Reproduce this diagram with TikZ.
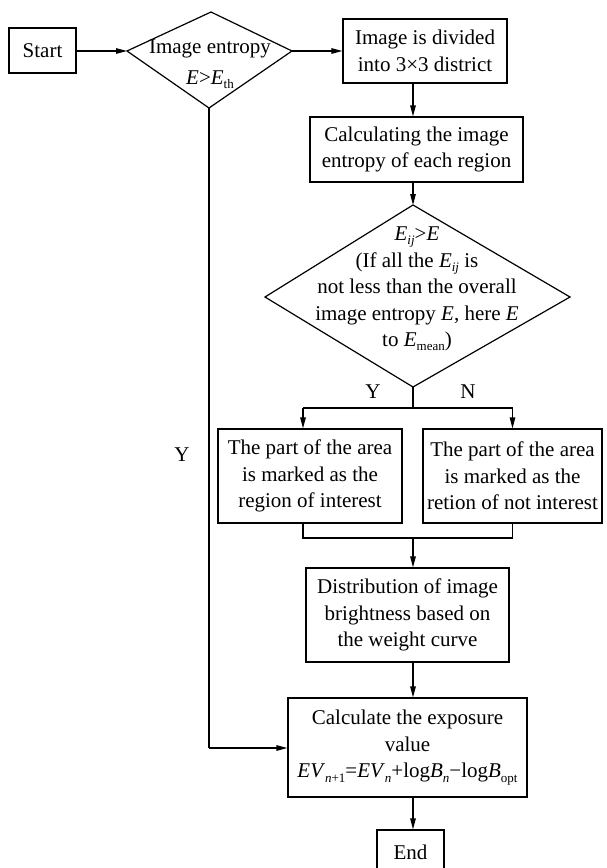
\documentclass[tikz,border=0pt]{standalone}
\usepackage{fontspec}
\setmainfont{Liberation Serif}
\usetikzlibrary{arrows.meta}
\newcommand{\sbx}[1]{\raisebox{-0.45ex}{\fontsize{13}{13}\selectfont #1}}
\newcommand{\fs}{\fontsize{21}{26.5}\selectfont}
\begin{document}
\begin{tikzpicture}[x=1pt,y=-1pt,
  box/.style={draw, line width=1.2pt, inner sep=0pt, align=center, font=\fs},
  txt/.style={inner sep=0pt, align=center, font=\fs},
  shape line/.style={draw, line width=1.2pt, line join=miter},
  conn/.style={line width=1.2pt},
  arr/.style={line width=1.2pt, -{Triangle[length=11pt,width=5.5pt]}},
  lbl/.style={inner sep=0pt, font=\fs}]
\fill[white] (0,0) rectangle (607,868);
\clip (0,0) rectangle (607,868);

% start
\node[box, minimum width=67pt, minimum height=45pt] (start) at (42.5,50.5) {Start};

% decision 1
\coordinate (d1L) at (127,51);
\coordinate (d1T) at (211,12);
\coordinate (d1R) at (292,51);
\coordinate (d1B) at (209,108);
\draw[shape line] (d1L) -- (d1T) -- (d1R) -- (d1B) -- cycle;
\node[txt] (d1t) at (210,64.5) {Image entropy\\[4pt]\textit{E}>\textit{E}\sbx{th}};

% box 1
\node[box, minimum width=164pt, minimum height=64pt] (box1) at (425,51) {Image is divided\\into 3×3 district};
% box 2
\node[box, minimum width=213pt, minimum height=65pt] (box2) at (416.5,149.5) {Calculating the image\\entropy of each region};

% decision 2
\coordinate (d2T) at (413,205);
\coordinate (d2L) at (265,297);
\coordinate (d2R) at (570,297);
\coordinate (d2B) at (413,387);
\draw[shape line] (d2L) -- (d2T) -- (d2R) -- (d2B) -- cycle;
\node[txt] (d2t) at (417,289) {\textit{E}\sbx{\textit{ij}}>\textit{E}\\(If all the \textit{E}\sbx{\textit{ij}} is\\not less than the overall\\image entropy \textit{E}, here \textit{E}\\to \textit{E}\sbx{mean})};

% boxes L and R
\node[box, minimum width=184pt, minimum height=94pt] (boxL) at (310,476) {The part of the area\\is marked as the\\region of interest};
\node[box, minimum width=179pt, minimum height=94pt] (boxR) at (512.5,476) {The part of the area\\is marked as the\\retion of not interest};

% distribution
\node[box, minimum width=203pt, minimum height=94pt] (dist) at (407.5,615) {Distribution of image\\brightness based on\\the weight curve};

% calculate
\node[box, minimum width=239pt, minimum height=99pt] (calc) at (407.5,747.5) {Calculate the exposure\\value\\\textit{EV}\sbx{\textit{n}+1}=\textit{EV}\sbx{\textit{n}}+log\textit{B}\sbx{\textit{n}}−log\textit{B}\sbx{opt}};

% end
\node[box, minimum width=67pt, minimum height=45pt] (end) at (410.5,852.5) {End};

% connectors
\coordinate (ax) at (413,0);
\coordinate (split) at (413,408);
\coordinate (splitL) at (303,408);
\coordinate (splitR) at (512.5,408);
\coordinate (merge) at (413,538);
\coordinate (mergeL) at (303,538);
\coordinate (mergeR) at (512.5,538);
\coordinate (ycorner) at (209,748);

\draw[arr] (start.east |- d1L) -- (d1L);
\draw[arr] (d1R) -- (box1.west |- d1R);
\draw[arr] (box1.south -| ax) -- (box2.north -| ax);
\draw[arr] (box2.south -| ax) -- (d2T);
\draw[conn] (d2B) -- (split);
\draw[conn] (splitL) -- (splitR);
\draw[arr] (splitL) -- (boxL.north -| splitL);
\draw[arr] (splitR) -- (boxR.north -| splitR);
\draw[conn] (boxL.south -| mergeL) -- (mergeL) -- (mergeR) -- (boxR.south -| mergeR);
\draw[arr] (merge) -- (dist.north -| merge);
\draw[arr] (dist.south -| ax) -- (calc.north -| ax);
\draw[arr] (calc.south -| ax) -- (end.north -| ax);
\draw[conn] (d1B) -- (ycorner);
\draw[arr] (ycorner) -- (calc.west |- ycorner);

% labels
\node[lbl] (ly1) at (373,392) {Y};
\node[lbl] (ln) at (468,392) {N};
\node[lbl] (ly2) at (182,455) {Y};
\end{tikzpicture}
\end{document}
